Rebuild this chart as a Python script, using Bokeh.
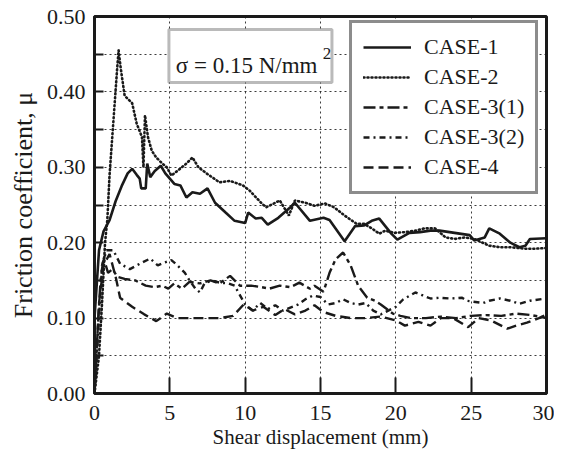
from bokeh.plotting import figure
from bokeh.models import Range1d, FixedTicker, PrintfTickFormatter, Legend, LegendItem, Label, BoxAnnotation
from bokeh.embed import file_html
from bokeh.resources import INLINE

# ---- data ----
case1_x = [0, 0.3, 0.6, 1.0, 1.4, 1.8, 2.2, 2.5, 2.8, 3.0, 3.1, 3.4, 3.5, 3.7, 4.0, 4.4, 4.7, 5.0, 5.3, 5.7,
           6.1, 6.5, 7.0, 7.5, 8.0, 8.7, 9.3, 10.0, 10.2, 10.7, 11.1, 11.5, 12.2, 13.0, 13.3, 14.3, 15.2, 15.6,
           16.6, 17.3, 17.9, 18.4, 18.9, 19.7, 20.1, 20.9, 21.6, 22.3, 22.9, 23.9, 24.9, 25.2, 25.9, 26.2,
           26.9, 27.6, 28.2, 28.6, 28.9, 30.0]
case1_y = [0.10, 0.19, 0.215, 0.23, 0.255, 0.275, 0.292, 0.298, 0.29, 0.285, 0.272, 0.272, 0.305, 0.287, 0.295,
           0.302, 0.292, 0.285, 0.278, 0.276, 0.26, 0.267, 0.265, 0.272, 0.253, 0.24, 0.229, 0.226, 0.24, 0.232,
           0.233, 0.224, 0.233, 0.247, 0.253, 0.229, 0.233, 0.23, 0.202, 0.222, 0.223, 0.229, 0.232, 0.212,
           0.204, 0.213, 0.214, 0.216, 0.216, 0.213, 0.21, 0.203, 0.207, 0.219, 0.212, 0.2, 0.194, 0.196,
           0.205, 0.206]

case2_x = [0, 0.3, 0.5, 0.7, 0.85, 1.0, 1.25, 1.5, 1.6, 1.75, 2.0, 2.5, 2.8, 3.15, 3.25, 3.35, 3.55, 3.8, 4.1,
           4.5, 4.8, 5.1, 5.55, 6.1, 6.5, 6.9, 7.5, 8.3, 9.0, 9.85, 10.3, 11.1, 11.4, 12.3, 12.9, 13.3, 14.0,
           14.6, 15.3, 15.9, 16.6, 17.4, 17.9, 18.4, 18.9, 19.3, 19.9, 20.6, 21.3, 21.9, 22.6, 23.3, 23.9,
           24.6, 25.2, 26.2, 26.9, 27.6, 28.6, 29.2, 30.0]
case2_y = [0.0, 0.05, 0.12, 0.2, 0.23, 0.29, 0.36, 0.43, 0.455, 0.43, 0.395, 0.385, 0.358, 0.34, 0.30, 0.369,
           0.34, 0.322, 0.313, 0.305, 0.30, 0.289, 0.296, 0.305, 0.313, 0.30, 0.291, 0.28, 0.282, 0.276,
           0.269, 0.252, 0.247, 0.256, 0.236, 0.256, 0.253, 0.249, 0.252, 0.247, 0.236, 0.225, 0.225, 0.219,
           0.212, 0.216, 0.213, 0.214, 0.216, 0.219, 0.219, 0.207, 0.205, 0.207, 0.205, 0.196, 0.194, 0.194,
           0.192, 0.192, 0.193]

case31_x = [0, 0.2, 0.4, 0.6, 0.9, 1.2, 1.5, 2.0, 2.7, 3.4, 4.0, 4.5, 4.9, 5.3, 5.8, 6.3, 7.0, 7.7, 8.3, 9.0,
            9.65, 10.4, 11.1, 11.6, 12.3, 13.0, 13.6, 14.3, 14.6, 15.2, 15.6, 16.0, 16.5, 17.0, 17.5, 18.1,
            18.6, 19.0, 19.8, 20.3, 21.0, 22.0, 23.0, 24.0, 25.0, 26.0, 27.0, 28.0, 29.0, 30.0]
case31_y = [0.0, 0.08, 0.15, 0.18, 0.16, 0.165, 0.155, 0.152, 0.15, 0.143, 0.141, 0.143, 0.139, 0.146, 0.139,
            0.148, 0.146, 0.15, 0.146, 0.156, 0.143, 0.143, 0.141, 0.139, 0.143, 0.141, 0.147, 0.139, 0.143,
            0.135, 0.16, 0.178, 0.187, 0.17, 0.143, 0.127, 0.123, 0.118, 0.106, 0.103, 0.10, 0.10, 0.102,
            0.10, 0.103, 0.104, 0.103, 0.106, 0.104, 0.10]

case32_x = [0, 0.3, 0.5, 0.8, 1.25, 1.7, 2.35, 3.0, 3.7, 4.2, 4.7, 5.1, 5.5, 6.0, 6.3, 6.7, 7.0, 7.3, 7.8, 8.3,
            8.9, 9.3, 10.0, 10.5, 11.0, 11.5, 12.0, 12.5, 13.0, 13.5, 14.0, 14.5, 15.0, 15.5, 16.0, 16.5,
            17.0, 17.5, 18.0, 18.5, 19.0, 19.5, 20.0, 20.5, 21.3, 21.8, 22.3, 22.9, 23.6, 24.4, 24.7, 25.8,
            26.2, 26.9, 27.6, 28.2, 28.9, 30.0]
case32_y = [0.0, 0.10, 0.17, 0.19, 0.19, 0.172, 0.165, 0.172, 0.179, 0.17, 0.174, 0.177, 0.17, 0.16, 0.15,
            0.139, 0.134, 0.146, 0.15, 0.147, 0.146, 0.143, 0.118, 0.11, 0.12, 0.112, 0.117, 0.11, 0.114,
            0.118, 0.125, 0.13, 0.128, 0.118, 0.12, 0.125, 0.12, 0.118, 0.12, 0.11, 0.105, 0.11, 0.115,
            0.125, 0.134, 0.13, 0.126, 0.127, 0.126, 0.127, 0.123, 0.12, 0.123, 0.126, 0.123, 0.119, 0.123,
            0.126]

case4_x = [0, 0.3, 0.6, 1.0, 1.4, 1.7, 2.5, 3.3, 4.1, 4.8, 5.5, 6.3, 7.3, 8.3, 9.2, 9.9, 10.5, 11.2, 12.0,
           12.6, 13.3, 14.0, 14.6, 15.2, 16.0, 17.0, 18.0, 19.0, 20.0, 20.6, 21.5, 22.3, 23.0, 23.8, 24.8,
           25.5, 26.3, 27.4, 28.0, 28.7, 29.5, 30.0]
case4_y = [0.0, 0.12, 0.17, 0.185, 0.155, 0.127, 0.115, 0.105, 0.096, 0.106, 0.10, 0.10, 0.10, 0.10, 0.103,
           0.118, 0.11, 0.115, 0.104, 0.112, 0.105, 0.11, 0.117, 0.108, 0.103, 0.10, 0.10, 0.102, 0.097,
           0.09, 0.095, 0.09, 0.10, 0.10, 0.088, 0.10, 0.097, 0.086, 0.09, 0.094, 0.10, 0.105]

names = ["CASE-1", "CASE-2", "CASE-3(1)", "CASE-3(2)", "CASE-4"]
x_ticks = [0, 5, 10, 15, 20, 25, 30]
y_ticks = [0.0, 0.1, 0.2, 0.3, 0.4, 0.5]
y_minor = [0.05, 0.15, 0.25, 0.35, 0.45]

FONT = "Liberation Serif"
INK = "#1a1a1a"

p = figure(width=554, height=451, output_backend="svg", toolbar_location=None,
           x_range=Range1d(0, 30), y_range=Range1d(0, 0.5),
           min_border_left=94, min_border_right=8, min_border_top=16, min_border_bottom=58)
p.background_fill_color = "white"
p.border_fill_color = "white"
p.outline_line_color = INK
p.outline_line_width = 3

series = [(case1_x, case1_y, "solid", 2.6),
          (case2_x, case2_y, "1 3", 2.6),
          (case31_x, case31_y, "12 4 4 4", 2.4),
          (case32_x, case32_y, "6 4 2 4", 2.4),
          (case4_x, case4_y, "10 5", 2.4)]
items = []
for (xs, ys, dash, w), nm in zip(series, names):
    r = p.line(xs, ys, line_color=INK, line_width=w, line_dash=dash,
               line_cap="round" if dash == "1 3" else "butt")
    items.append(LegendItem(label=nm, renderers=[r]))

# axes
p.xaxis.ticker = FixedTicker(ticks=x_ticks)
p.yaxis.ticker = FixedTicker(ticks=y_ticks, minor_ticks=y_minor)
p.yaxis.formatter = PrintfTickFormatter(format="%.2f")
for ax in (p.xaxis[0], p.yaxis[0]):
    ax.axis_line_color = INK
    ax.axis_line_width = 3
    ax.major_tick_line_color = INK
    ax.major_tick_line_width = 2
    ax.major_tick_out = 0
    ax.minor_tick_out = 0
    ax.major_label_text_font = FONT
    ax.major_label_text_font_size = "22px"
    ax.major_label_text_color = INK
    ax.axis_label_text_font = FONT
    ax.axis_label_text_font_style = "normal"
    ax.axis_label_text_color = INK
p.xaxis.axis_label_text_font_size = "21px"
p.yaxis.axis_label_text_font_size = "26px"
p.xaxis.major_tick_in = 16
p.yaxis.major_tick_in = 9
p.yaxis.minor_tick_in = 9
p.yaxis.minor_tick_line_color = INK
p.yaxis.minor_tick_line_width = 2
p.xaxis.minor_tick_line_color = None
p.xaxis.major_label_standoff = 12
p.yaxis.major_label_standoff = 9
p.xaxis.axis_label_standoff = 2
p.yaxis.axis_label_standoff = 6
p.xaxis.axis_label = "Shear displacement (mm)"
p.yaxis.axis_label = "Friction coefficient, \u03bc"

# grids (dotted)
for g in (p.xgrid[0], p.ygrid[0]):
    g.grid_line_color = INK
    g.grid_line_dash = "2 3"
    g.grid_line_width = 1
    g.grid_line_alpha = 0.85
p.ygrid.minor_grid_line_color = INK
p.ygrid.minor_grid_line_dash = "2 3"
p.ygrid.minor_grid_line_width = 1
p.ygrid.minor_grid_line_alpha = 0.85

# legend
legend = Legend(items=items, location=(255, 199), orientation="vertical")
legend.border_line_color = INK
legend.border_line_width = 3
legend.background_fill_color = "white"
legend.background_fill_alpha = 1
legend.label_text_font = FONT
legend.label_text_font_size = "22px"
legend.label_text_color = INK
legend.glyph_width = 48
legend.glyph_height = 22
legend.label_height = 22
legend.label_standoff = 13
legend.spacing = 4
legend.padding = 11
legend.margin = 0
p.add_layout(legend, "center")

# sigma annotation box
box = BoxAnnotation(left=4.94, right=15.76, bottom=0.4125, top=0.4828,
                    fill_color="white", fill_alpha=1, line_color=INK, line_width=3)
p.add_layout(box)
p.add_layout(Label(x=5.4, y=0.4185, text="\u03c3 = 0.15 N/mm", text_font=FONT,
                   text_font_size="23px", text_color=INK))
p.add_layout(Label(x=15.15, y=0.444, text="2", text_font=FONT,
                   text_font_size="17px", text_color=INK))

open("out.html", "w").write(file_html(p, INLINE))
